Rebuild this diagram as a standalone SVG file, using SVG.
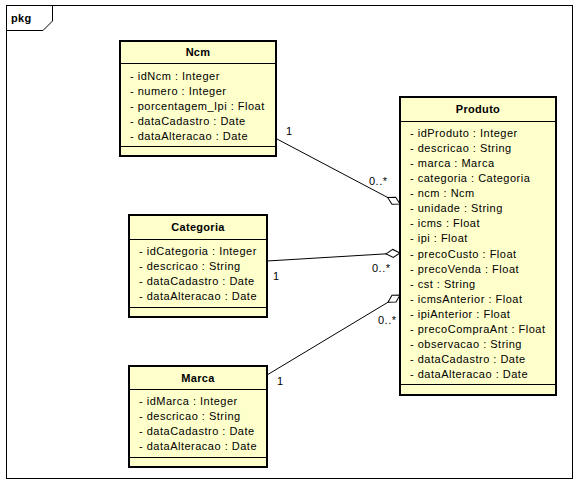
<svg xmlns="http://www.w3.org/2000/svg" width="580" height="484" viewBox="0 0 580 484">
<style>
text{font-family:"Liberation Sans",Arial,sans-serif;font-size:11px;fill:#000;letter-spacing:0.5px}
.t{font-weight:bold;text-anchor:middle;letter-spacing:0.3px}
.box{fill:#ffffcc;stroke:#000;stroke-width:2}
.sep{stroke:#000;stroke-width:1}
.conn{stroke:#000;stroke-width:1;fill:none}
</style>
<defs>
<marker id="agg" markerUnits="userSpaceOnUse" viewBox="0 0 16 10" markerWidth="16" markerHeight="10" refX="15" refY="5" orient="auto">
<path d="M1,5 L8,1 L15,5 L8,9 Z" fill="#fff" stroke="#000" stroke-width="1"/>
</marker>
</defs>
<rect width="580" height="484" fill="#fff"/>
<g id="frame">
<rect x="6.5" y="5.5" width="566" height="473" fill="none" stroke="#000" stroke-width="1"/>
<path d="M6.5,30.5 H43 L52.5,21 V5.5" fill="none" stroke="#000" stroke-width="1"/>
<text x="11" y="22" style="font-weight:bold;letter-spacing:0.3px">pkg</text>
</g>
<g id="connectors">
<line class="conn" x1="277" y1="139" x2="400" y2="204" marker-end="url(#agg)"/>
<line class="conn" x1="267" y1="261" x2="400" y2="253" marker-end="url(#agg)"/>
<line class="conn" x1="267" y1="375" x2="400" y2="295" marker-end="url(#agg)"/>
<text x="286" y="135">1</text>
<text x="369" y="185">0..*</text>
<text x="273" y="280">1</text>
<text x="372" y="272">0..*</text>
<text x="277" y="385">1</text>
<text x="378" y="324">0..*</text>
</g>
<g id="Ncm">
<rect class="box" x="120" y="41" width="156" height="115"/>
<line class="sep" x1="120" y1="63.5" x2="276" y2="63.5"/>
<line class="sep" x1="120" y1="146.5" x2="276" y2="146.5"/>
<text class="t" x="198" y="56">Ncm</text>
<text x="130" y="80">- idNcm : Integer</text>
<text x="130" y="95">- numero : Integer</text>
<text x="130" y="110">- porcentagem_Ipi : Float</text>
<text x="130" y="125">- dataCadastro : Date</text>
<text x="130" y="140">- dataAlteracao : Date</text>
</g>
<g id="Categoria">
<rect class="box" x="129" y="215" width="138" height="102"/>
<line class="sep" x1="129" y1="239.5" x2="267" y2="239.5"/>
<line class="sep" x1="129" y1="307.5" x2="267" y2="307.5"/>
<text class="t" x="198" y="231">Categoria</text>
<text x="139" y="255">- idCategoria : Integer</text>
<text x="139" y="270">- descricao : String</text>
<text x="139" y="285">- dataCadastro : Date</text>
<text x="139" y="300">- dataAlteracao : Date</text>
</g>
<g id="Marca">
<rect class="box" x="129" y="366" width="138" height="101"/>
<line class="sep" x1="129" y1="389.5" x2="267" y2="389.5"/>
<line class="sep" x1="129" y1="457.5" x2="267" y2="457.5"/>
<text class="t" x="198" y="382">Marca</text>
<text x="139" y="405">- idMarca : Integer</text>
<text x="139" y="420">- descricao : String</text>
<text x="139" y="435">- dataCadastro : Date</text>
<text x="139" y="450">- dataAlteracao : Date</text>
</g>
<g id="Produto">
<rect class="box" x="400" y="97" width="156" height="298"/>
<line class="sep" x1="400" y1="121.5" x2="556" y2="121.5"/>
<line class="sep" x1="400" y1="384.5" x2="556" y2="384.5"/>
<text class="t" x="478" y="113">Produto</text>
<text x="410" y="136.7">- idProduto : Integer</text>
<text x="410" y="151.8">- descricao : String</text>
<text x="410" y="166.9">- marca : Marca</text>
<text x="410" y="182.0">- categoria : Categoria</text>
<text x="410" y="197.1">- ncm : Ncm</text>
<text x="410" y="212.2">- unidade : String</text>
<text x="410" y="227.3">- icms : Float</text>
<text x="410" y="242.4">- ipi : Float</text>
<text x="410" y="257.5">- precoCusto : Float</text>
<text x="410" y="272.6">- precoVenda : Float</text>
<text x="410" y="287.7">- cst : String</text>
<text x="410" y="302.8">- icmsAnterior : Float</text>
<text x="410" y="317.9">- ipiAnterior : Float</text>
<text x="410" y="333.0">- precoCompraAnt : Float</text>
<text x="410" y="348.1">- observacao : String</text>
<text x="410" y="363.2">- dataCadastro : Date</text>
<text x="410" y="378.3">- dataAlteracao : Date</text>
</g>
</svg>
